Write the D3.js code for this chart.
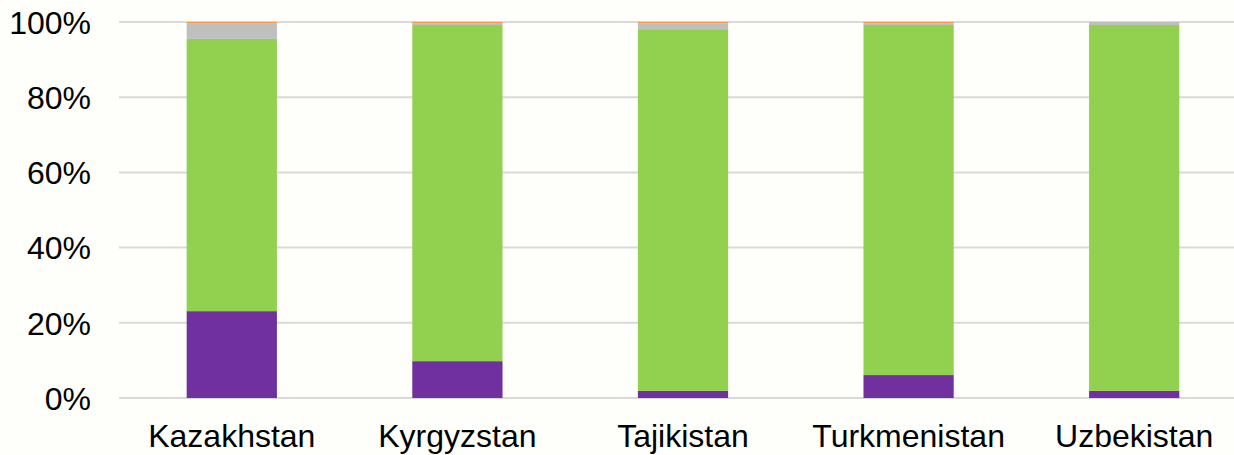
<!DOCTYPE html>
<html><head><meta charset="utf-8">
<script src="https://cdn.jsdelivr.net/npm/d3@7"></script>
<style>html,body{margin:0;padding:0;background:#fefffa;}svg{display:block;}text{font-family:"Liberation Sans",Arial,sans-serif;fill:#000;}</style>
</head><body>
<svg id="c" width="1234" height="455"></svg>
<script>
const categories = ["Kazakhstan","Kyrgyzstan","Tajikistan","Turkmenistan","Uzbekistan"];
const seriesNames = ["Purple","Green","Grey","Orange"];
const purple = [23.1, 9.8, 1.9, 6.1, 1.9];
const green  = [72.4, 89.4, 96.2, 93.1, 97.3];
const grey   = [4.2, 0.4, 1.5, 0.4, 0.8];
const orange = [0.3, 0.4, 0.4, 0.4, 0.0];
const colors = ["#7030a0","#92d050","#bfbfbf","#f79646"];
const yTicks = [0,20,40,60,80,100];

(function(){
const svg = d3.select("#c");
const pLeft = 119, pRight = 1247, pTop = 22, pBottom = 398;
const x = d3.scaleBand().domain(categories).range([pLeft, pRight]).padding(0);
const y = d3.scaleLinear().domain([0,100]).range([pBottom, pTop]);

svg.append("g").selectAll("line").data(yTicks).join("line")
  .attr("x1", pLeft).attr("x2", 1234)
  .attr("y1", d=>y(d)).attr("y2", d=>y(d))
  .attr("stroke", "#d9d9d9").attr("stroke-width", 2);

const rows = categories.map((c,i)=>({cat:c, Purple:purple[i], Green:green[i], Grey:grey[i], Orange:orange[i]}));
const stack = d3.stack().keys(seriesNames)(rows);
const bw = x.bandwidth()*0.4;
svg.append("g").selectAll("g").data(stack).join("g")
  .attr("fill", (d,i)=>colors[i])
  .selectAll("rect").data(d=>d).join("rect")
  .attr("x", d=>x(d.data.cat)+x.bandwidth()/2-bw/2)
  .attr("width", bw)
  .attr("y", d=>y(d[1]))
  .attr("height", d=>y(d[0])-y(d[1]));

const yAxis = d3.axisLeft(y).tickValues(yTicks).tickFormat(d=>d+"%").tickSize(0).tickPadding(28);
const ga = svg.append("g").attr("transform",`translate(${pLeft},0)`).call(yAxis);
ga.select(".domain").remove();
ga.selectAll("text").attr("font-size","32px").attr("font-family","Liberation Sans, Arial, sans-serif").attr("fill","#000").attr("dy","0.35em");

const xAxis = d3.axisBottom(x).tickSize(0).tickPadding(0);
const gx = svg.append("g").attr("transform",`translate(0,${pBottom})`).call(xAxis);
gx.select(".domain").remove();
gx.selectAll("text").attr("font-size","32px").attr("font-family","Liberation Sans, Arial, sans-serif").attr("fill","#000").attr("dy",null).attr("y",49);
})();
</script>
</body></html>
